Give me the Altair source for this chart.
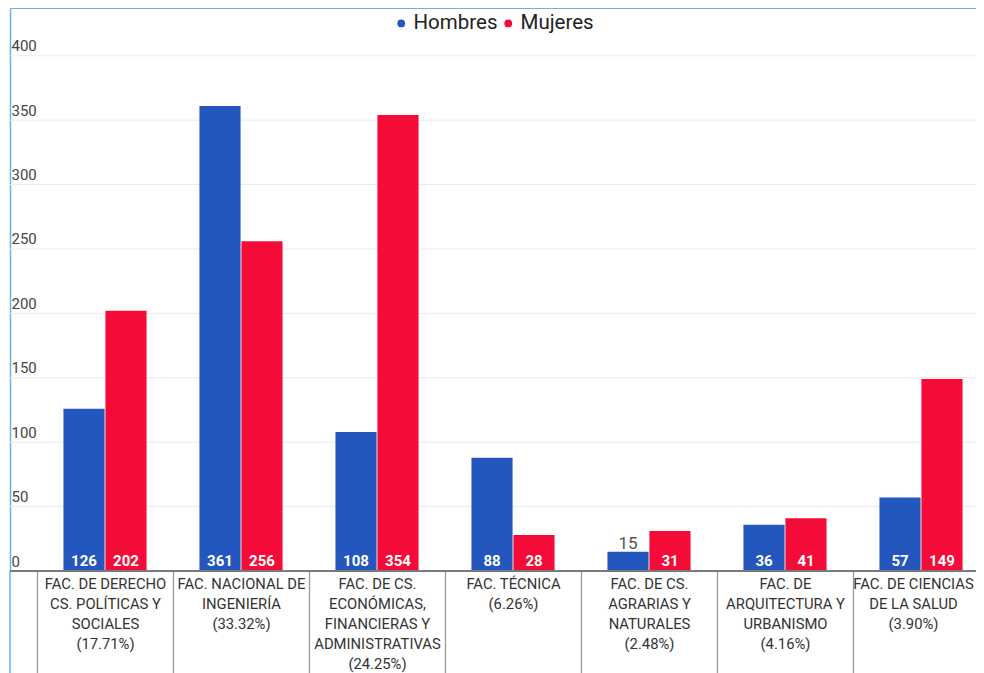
import altair as alt
import pandas as pd

# ---- data ----
categorias = [
    "FAC. DE DERECHO|CS. POLÍTICAS Y|SOCIALES|(17.71%)",
    "FAC. NACIONAL DE|INGENIERÍA|(33.32%)",
    "FAC. DE CS.|ECONÓMICAS,|FINANCIERAS Y|ADMINISTRATIVAS|(24.25%)",
    "FAC. TÉCNICA|(6.26%)",
    "FAC. DE CS.|AGRARIAS Y|NATURALES|(2.48%)",
    "FAC. DE|ARQUITECTURA Y|URBANISMO|(4.16%)",
    "FAC. DE CIENCIAS|DE LA SALUD|(3.90%)",
]
hombres = [126, 361, 108, 88, 15, 36, 57]
mujeres = [202, 256, 354, 28, 31, 41, 149]
series = ["Hombres", "Mujeres"]
colores = ["#2457be", "#f50b37"]
y_ticks = [0, 50, 100, 150, 200, 250, 300, 350, 400]

rows = []
for c, h, m in zip(categorias, hombres, mujeres):
    rows.append({"cat": c, "serie": series[0], "valor": h})
    rows.append({"cat": c, "serie": series[1], "valor": m})
df = pd.DataFrame(rows)

PLOT_W = 966
PLOT_H = 563
PAD_BOTTOM = 102
Y_TOP = 437.1  # top of the frame
FRAME = "#6cb2e4"

y_enc = alt.Y(
    "valor:Q",
    scale=alt.Scale(domain=[0, Y_TOP], nice=False, zero=True),
    axis=alt.Axis(
        title=None,
        values=y_ticks,
        ticks=False,
        grid=False,
        domain=True,
        domainColor=FRAME,
        domainWidth=1.5,
        labelAlign="left",
        labelBaseline="alphabetic",
        labelPadding=-1,
        labelOffset=-5,
        labelFontSize=15,
        labelFont="Roboto",
        labelColor="#444444",
    ),
)

last_cat = categorias[-1].replace("'", "\\'")
x_enc = alt.X(
    "cat:N",
    sort=categorias,
    scale=alt.Scale(range=[27, 979], paddingInner=0, paddingOuter=0),
    axis=alt.Axis(
        title=None,
        domain=False,
        ticks=True,
        tickBand="extent",
        tickSize=PAD_BOTTOM,
        tickColor="#9a9a9a",
        tickWidth=1.3,
        labelExpr="split(datum.label, '|')",
        labelAngle=0,
        labelAlign="center",
        labelBaseline="top",
        labelPadding=-97,
        labelOffset={
            "condition": {"test": f"datum.value === '{last_cat}'", "value": -8},
            "value": 0,
        },
        labelFontSize=14.8,
        labelLineHeight=20,
        labelColor="#333333",
        labelFont="Roboto",
        labelLimit=0,
        labelOverlap=False,
    ),
)

grid_df = pd.DataFrame({"valor": y_ticks[1:]})
zero_df = pd.DataFrame({"valor": y_ticks[:1]})
top_df = pd.DataFrame({"valor": [Y_TOP]})

grid = alt.Chart(grid_df).mark_rule(color="#ebebeb", strokeWidth=1).encode(y=y_enc)

base = alt.Chart(df)

bars = base.mark_bar().encode(
    x=x_enc,
    xOffset=alt.XOffset("serie:N", sort=series,
                        scale=alt.Scale(paddingInner=0.02, paddingOuter=0.63)),
    y=y_enc,
    color=alt.Color(
        "serie:N",
        sort=series,
        scale=alt.Scale(domain=series, range=colores),
        legend=alt.Legend(
            title=None,
            orient="none",
            legendX=381,
            legendY=5,
            direction="horizontal",
            symbolType="circle",
            symbolSize=60,
            symbolStrokeWidth=0,
            labelFontSize=20.5,
            labelFont="Roboto",
            labelColor="#222222",
            columnPadding=-5,
            labelOffset=2,
        ),
    ),
)

baseline = alt.Chart(zero_df).mark_rule(color="#7a7a7a", strokeWidth=2).encode(y=y_enc)
topline = alt.Chart(top_df).mark_rule(color=FRAME, strokeWidth=2).encode(y=y_enc)

# frame border continuing below the plot, beside the category labels
frame_left = alt.Chart(zero_df).mark_rule(color=FRAME, strokeWidth=1.5).encode(
    x=alt.value(0), y=alt.value(PLOT_H), y2=alt.value(PLOT_H + PAD_BOTTOM)
)

inside = base.transform_filter("datum.valor >= 20").mark_text(
    color="white", fontWeight="bold", fontSize=15, font="Roboto",
    baseline="alphabetic", dy=-5.5,
).encode(
    x=alt.X("cat:N", sort=categorias),
    xOffset=alt.XOffset("serie:N", sort=series),
    y=alt.YDatum(0),
    text="valor:Q",
)

outside = base.transform_filter("datum.valor < 20").mark_text(
    color="#555555", fontSize=17, font="Roboto",
    baseline="alphabetic", dy=-3,
).encode(
    x=alt.X("cat:N", sort=categorias),
    xOffset=alt.XOffset("serie:N", sort=series),
    y="valor:Q",
    text="valor:Q",
)

chart = alt.layer(grid, bars, baseline, topline, frame_left, inside, outside).properties(
    width=PLOT_W,
    height=PLOT_H,
    padding={"left": 2, "top": 0, "right": 0, "bottom": PAD_BOTTOM},
    autosize=alt.AutoSizeParams(type="none"),
    background="white",
).configure_view(stroke=None)

chart.save("out.html", embed_options={"renderer": "svg", "actions": False})
